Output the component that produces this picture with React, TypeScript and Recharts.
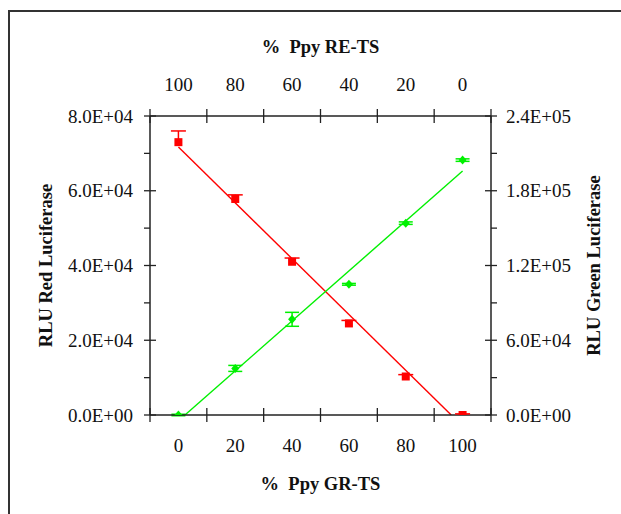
import React from "react";
import {
  ComposedChart,
  Line,
  Scatter,
  XAxis,
  YAxis,
  ErrorBar,
  Label,
} from "recharts";

// % Ppy GR-TS on the bottom axis, % Ppy RE-TS on the top (reversed)
const pctTicks = [-10, 0, 10, 20, 30, 40, 50, 60, 70, 80, 90, 100, 110];
const pctLabels = [0, 20, 40, 60, 80, 100];

const redTicks = [0, 10000, 20000, 30000, 40000, 50000, 60000, 70000, 80000];
const redLabels = [0, 20000, 40000, 60000, 80000];
const greenTicks = [0, 30000, 60000, 90000, 120000, 150000, 180000, 210000, 240000];
const greenLabels = [0, 60000, 120000, 180000, 240000];

const grts = [0, 20, 40, 60, 80, 100];
const redRlu = [73000, 57800, 41000, 24500, 10300, 0];
const redErrUp = [3000, 1100, 1000, 800, 500, 300];
const greenRlu = [0, 37400, 76800, 104900, 154000, 204600];
const greenErr = [600, 2400, 5600, 700, 1000, 1000];

// linear fits
const redFitX = [0, 96];
const redFitY = [71700, 0];
const greenFitX = [2.3, 100];
const greenFitY = [0, 195800];

const RED = "#ff0000";
const GREEN = "#00f000";
const INK = "#222";
const FONT = "'Liberation Serif', 'Times New Roman', serif";

const redPts = grts.map((x, i) => ({ x, y: redRlu[i], err: [0, redErrUp[i]] }));
// red bars are plus-only, so their caps are drawn at the top end only
const redCaps = grts.map((x, i) => ({ x, y: redRlu[i] + redErrUp[i] }));
const greenPts = grts.map((x, i) => ({ x, y: greenRlu[i], err: greenErr[i] }));
const redFit = redFitX.map((x, i) => ({ x, y: redFitY[i] }));
const greenFit = greenFitX.map((x, i) => ({ x, y: greenFitY[i] }));

const sci = (v: number) => {
  const [m, e] = v.toExponential(1).split("e");
  const n = Math.abs(Number(e));
  return `${m}E${Number(e) < 0 ? "-" : "+"}${n < 10 ? "0" + n : n}`;
};

const textStyle = { fontFamily: FONT, fontSize: 19, fill: "#111" };

const XTick = ({ x, y, payload, top }: any) => {
  const v = payload.value;
  if (pctLabels.includes(v)) {
    return (
      <text x={x} y={y} dy={top ? -25 : 37} textAnchor="middle" style={textStyle}>
        {v}
      </text>
    );
  }
  return <line x1={x} x2={x} y1={y - 7} y2={y + 7} stroke={INK} strokeWidth={1.3} />;
};

const YTick = ({ x, y, payload, right, labels }: any) => {
  const v = payload.value;
  const major = labels.includes(v);
  const s = right ? 1 : -1;
  return (
    <g>
      {major ? (
        <line x1={x - 6} x2={x + 6} y1={y} y2={y} stroke={INK} strokeWidth={1.3} />
      ) : (
        <line x1={x} x2={x + s * 6} y1={y} y2={y} stroke={INK} strokeWidth={1.3} />
      )}
      {major && (
        <text
          x={x + (right ? 15 : -17)}
          y={y}
          dy={6.5}
          textAnchor={right ? "start" : "end"}
          style={textStyle}
        >
          {sci(v)}
        </text>
      )}
    </g>
  );
};

const RedSquare = (p: any) => (
  <rect x={p.cx - 4} y={p.cy - 4} width={8} height={8} fill={RED} />
);
const RedCap = (p: any) => (
  <line x1={p.cx - 7.5} x2={p.cx + 7.5} y1={p.cy} y2={p.cy} stroke={RED} strokeWidth={1.5} />
);
const GreenDiamond = (p: any) => (
  <polygon
    points={`${p.cx},${p.cy - 4.5} ${p.cx + 4},${p.cy} ${p.cx},${p.cy + 4.5} ${p.cx - 4},${p.cy}`}
    fill={GREEN}
  />
);

const axisLine = { stroke: INK, strokeWidth: 1.5 };
const titleProps = { fontFamily: FONT, fontSize: 18.5, fontWeight: 700, fill: "#111" };

export default function App() {
  return (
    <div
      style={{
        position: "fixed",
        left: 0,
        top: 0,
        width: 621,
        height: 514,
        overflow: "hidden",
        background: "#fff",
      }}
    >
      <div
        style={{
          position: "absolute",
          left: 8,
          top: 10,
          width: 700,
          height: 600,
          borderTop: "2px solid #333",
          borderLeft: "2px solid #333",
        }}
      />
      <ComposedChart
        width={621}
        height={514}
        margin={{ top: 0, right: 0, bottom: 0, left: 0 }}
        style={{ position: "absolute", left: 0, top: 0 }}
      >
        <XAxis
          xAxisId="b"
          dataKey="x"
          type="number"
          domain={[-10, 110]}
          allowDataOverflow
          ticks={pctTicks}
          interval={0}
          height={99}
          tickSize={0}
          tickMargin={0}
          tickLine={false}
          axisLine={axisLine}
          tick={<XTick />}
        >
          <Label value={"%\u00a0\u00a0Ppy GR-TS"} position="insideBottom" offset={24} {...titleProps} />
        </XAxis>
        <XAxis
          xAxisId="t"
          dataKey="x"
          type="number"
          orientation="top"
          reversed
          domain={[-10, 110]}
          allowDataOverflow
          ticks={pctTicks}
          interval={0}
          height={116}
          tickSize={0}
          tickMargin={0}
          tickLine={false}
          axisLine={axisLine}
          tick={<XTick top />}
        >
          <Label value={"%\u00a0\u00a0Ppy RE-TS"} position="insideTop" offset={40} {...titleProps} />
        </XAxis>
        <YAxis
          yAxisId="red"
          type="number"
          domain={[0, 80000]}
          allowDataOverflow
          ticks={redTicks}
          interval={0}
          width={150}
          tickSize={0}
          tickMargin={0}
          tickLine={false}
          axisLine={axisLine}
          tick={<YTick labels={redLabels} />}
        >
          <Label
            value="RLU Red Luciferase"
            position="insideLeft"
            offset={45}
            angle={-90}
            textAnchor="middle"
            {...titleProps}
          />
        </YAxis>
        <YAxis
          yAxisId="green"
          orientation="right"
          type="number"
          domain={[0, 240000]}
          allowDataOverflow
          ticks={greenTicks}
          interval={0}
          width={130}
          tickSize={0}
          tickMargin={0}
          tickLine={false}
          axisLine={axisLine}
          tick={<YTick right labels={greenLabels} />}
        >
          <Label
            value="RLU Green Luciferase"
            position="insideRight"
            offset={28}
            angle={-90}
            textAnchor="middle"
            {...titleProps}
          />
        </YAxis>

        <Line
          data={redFit}
          xAxisId="b"
          yAxisId="red"
          dataKey="y"
          type="linear"
          stroke={RED}
          strokeWidth={1.4}
          dot={false}
          activeDot={false}
          isAnimationActive={false}
        />
        <Line
          data={greenFit}
          xAxisId="b"
          yAxisId="green"
          dataKey="y"
          type="linear"
          stroke={GREEN}
          strokeWidth={1.4}
          dot={false}
          activeDot={false}
          isAnimationActive={false}
        />
        <Scatter
          data={redPts}
          xAxisId="b"
          yAxisId="red"
          dataKey="y"
          fill={RED}
          shape={<RedSquare />}
          isAnimationActive={false}
        >
          <ErrorBar dataKey="err" direction="y" width={0} stroke={RED} strokeWidth={1.5} />
        </Scatter>
        <Scatter
          data={redCaps}
          xAxisId="b"
          yAxisId="red"
          dataKey="y"
          fill={RED}
          shape={<RedCap />}
          isAnimationActive={false}
        />
        <Scatter
          data={greenPts}
          xAxisId="b"
          yAxisId="green"
          dataKey="y"
          fill={GREEN}
          shape={<GreenDiamond />}
          isAnimationActive={false}
        >
          <ErrorBar dataKey="err" direction="y" width={7} stroke={GREEN} strokeWidth={1.5} />
        </Scatter>
      </ComposedChart>
    </div>
  );
}
